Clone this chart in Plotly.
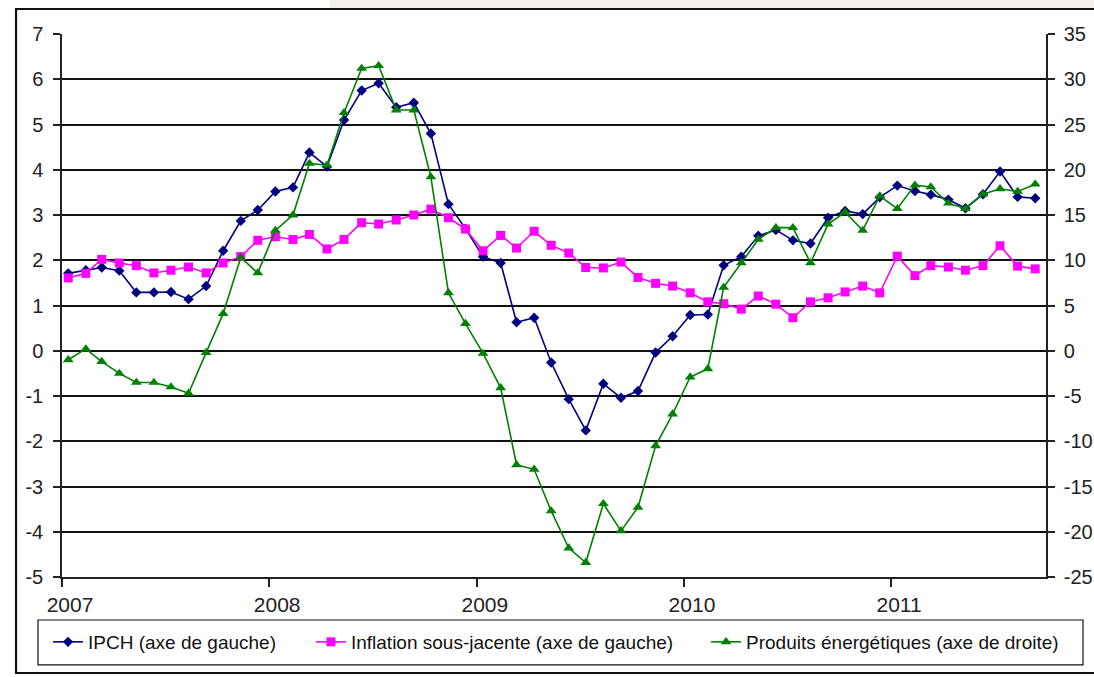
import plotly.graph_objects as go
import pandas as pd

# Monthly observations, Jan 2007 - Sep 2011
months = pd.date_range("2007-01-01", periods=57, freq="MS") + pd.Timedelta(days=11)

ipch = [1.71, 1.78, 1.84, 1.77, 1.29, 1.29, 1.30, 1.14, 1.43, 2.21, 2.87, 3.11,
        3.52, 3.61, 4.38, 4.07, 5.10, 5.75, 5.91, 5.38, 5.48, 4.80, 3.24, 2.70,
        2.08, 1.94, 0.63, 0.73, -0.26, -1.07, -1.76, -0.73, -1.04, -0.89, -0.04, 0.32,
        0.79, 0.80, 1.89, 2.08, 2.54, 2.67, 2.44, 2.37, 2.94, 3.09, 3.02, 3.39,
        3.65, 3.53, 3.45, 3.34, 3.15, 3.46, 3.96, 3.40, 3.37]

sous_jacente = [1.61, 1.71, 2.02, 1.94, 1.88, 1.72, 1.78, 1.85, 1.72, 1.94, 2.08, 2.44,
                2.52, 2.46, 2.57, 2.25, 2.46, 2.83, 2.80, 2.89, 3.00, 3.13, 2.94, 2.69,
                2.21, 2.55, 2.27, 2.64, 2.33, 2.16, 1.84, 1.83, 1.96, 1.62, 1.49, 1.43,
                1.28, 1.08, 1.04, 0.92, 1.21, 1.03, 0.73, 1.08, 1.17, 1.30, 1.43, 1.28,
                2.09, 1.66, 1.88, 1.85, 1.78, 1.88, 2.32, 1.87, 1.81]

energie = [-1.0, 0.2, -1.2, -2.5, -3.5, -3.5, -4.0, -4.7, -0.2, 4.1, 10.3, 8.6,
           13.3, 15.0, 20.7, 20.5, 26.3, 31.2, 31.5, 26.6, 26.6, 19.2, 6.4, 3.0,
           -0.3, -4.1, -12.6, -13.1, -17.7, -21.8, -23.4, -16.9, -19.9, -17.3, -10.5, -7.0,
           -2.9, -2.0, 7.0, 9.7, 12.3, 13.6, 13.6, 9.7, 14.0, 15.3, 13.3, 17.1,
           15.7, 18.3, 18.1, 16.3, 15.7, 17.3, 17.9, 17.6, 18.4]

year_ticks = ["2007-01-01", "2008-01-01", "2009-01-01", "2010-01-01", "2011-01-01"]
year_labels = ["2007", "2008", "2009", "2010", "2011"]

left_ticks = [-5, -4, -3, -2, -1, 0, 1, 2, 3, 4, 5, 6, 7]
left_labels = ["-5", "-4", "-3", "-2", "-1", "0", "1", "2", "3", "4", "5", "6", "7"]
right_ticks = [-25, -20, -15, -10, -5, 0, 5, 10, 15, 20, 25, 30, 35]
right_labels = ["-25", "-20", "-15", "-10", "-5", "0", "5", "10", "15", "20", "25", "30", "35"]

FONT = "Liberation Sans, Arial, sans-serif"

fig = go.Figure()
fig.add_trace(go.Scatter(
    x=months, y=ipch, name="IPCH (axe de gauche)", mode="lines+markers",
    line=dict(color="#000080", width=1.6),
    marker=dict(symbol="diamond", size=8, color="#000080"),
    legend="legend"))
fig.add_trace(go.Scatter(
    x=months, y=sous_jacente, name="Inflation sous-jacente (axe de gauche)", mode="lines+markers",
    line=dict(color="#FF00FF", width=1.6),
    marker=dict(symbol="square", size=9, color="#FF00FF"),
    legend="legend2"))
fig.add_trace(go.Scatter(
    x=months, y=energie, name="Produits énergétiques (axe de droite)", mode="lines+markers",
    yaxis="y2",
    line=dict(color="#008000", width=1.6),
    marker=dict(symbol="triangle-up", size=9.5, color="#008000"),
    legend="legend3"))

ytick_font = dict(family=FONT, size=20, color="#222222")
xtick_font = dict(family=FONT, size=21, color="#222222")
leg_font = dict(family=FONT, size=19, color="#111111")

def leg(xpos):
    return dict(orientation="h", x=xpos, xanchor="left", y=-0.1197, yanchor="middle",
                font=leg_font, bgcolor="rgba(0,0,0,0)", itemwidth=30, borderwidth=0)

fig.update_layout(
    width=1094, height=677,
    margin=dict(l=62, r=48, t=34, b=100, autoexpand=False),
    paper_bgcolor="white", plot_bgcolor="white",
    font=dict(family=FONT, color="#222222"),
    xaxis=dict(
        type="date", range=["2007-01-01", "2011-10-01"],
        tickvals=year_ticks, ticktext=year_labels,
        ticks="outside", ticklen=8, tickcolor="#222", tickwidth=1.5,
        showline=True, linecolor="#222", linewidth=1.5,
        showgrid=False, zeroline=False, tickfont=xtick_font,
        ticklabelshift=8, ticklabelstandoff=0, automargin=False),
    yaxis=dict(
        range=[-5, 7], tickvals=left_ticks, ticktext=left_labels,
        ticks="outside", ticklen=7, tickcolor="#222", tickwidth=1.5,
        showline=True, linecolor="#222", linewidth=1.5,
        showgrid=True, gridcolor="#111111", gridwidth=1.6, zeroline=False,
        tickfont=ytick_font, ticklabelstandoff=6, automargin=False),
    yaxis2=dict(
        range=[-25, 35], tickvals=right_ticks, ticktext=right_labels,
        overlaying="y", side="right",
        ticks="outside", ticklen=7, tickcolor="#222", tickwidth=1.5,
        showline=True, linecolor="#222", linewidth=1.5,
        showgrid=False, zeroline=False, tickfont=ytick_font, ticklabelstandoff=5,
        automargin=False),
    legend=leg(-0.0142),
    legend2=leg(0.2530),
    legend3=leg(0.6545),
    showlegend=True,
)

# faint page strip at the very top
fig.add_shape(type="rect", xref="paper", yref="paper",
              x0=0.2724, x1=1.0488, y0=1.0479, y1=1.0626,
              line=dict(width=0), fillcolor="#f3f0ec", layer="below")
# legend frame and outer chart frame
fig.add_shape(type="rect", xref="paper", yref="paper",
              x0=-0.0244, x1=1.0376, y0=-0.0792, y1=-0.162,
              line=dict(color="#111", width=1.2), layer="below")
fig.add_shape(type="rect", xref="paper", yref="paper",
              x0=-0.0467, x1=1.06, y0=1.046, y1=-0.1768,
              line=dict(color="#111", width=2.2), layer="below")

fig.write_html("out.html", config={"displayModeBar": False},
               post_script="document.body.style.margin='0';")
